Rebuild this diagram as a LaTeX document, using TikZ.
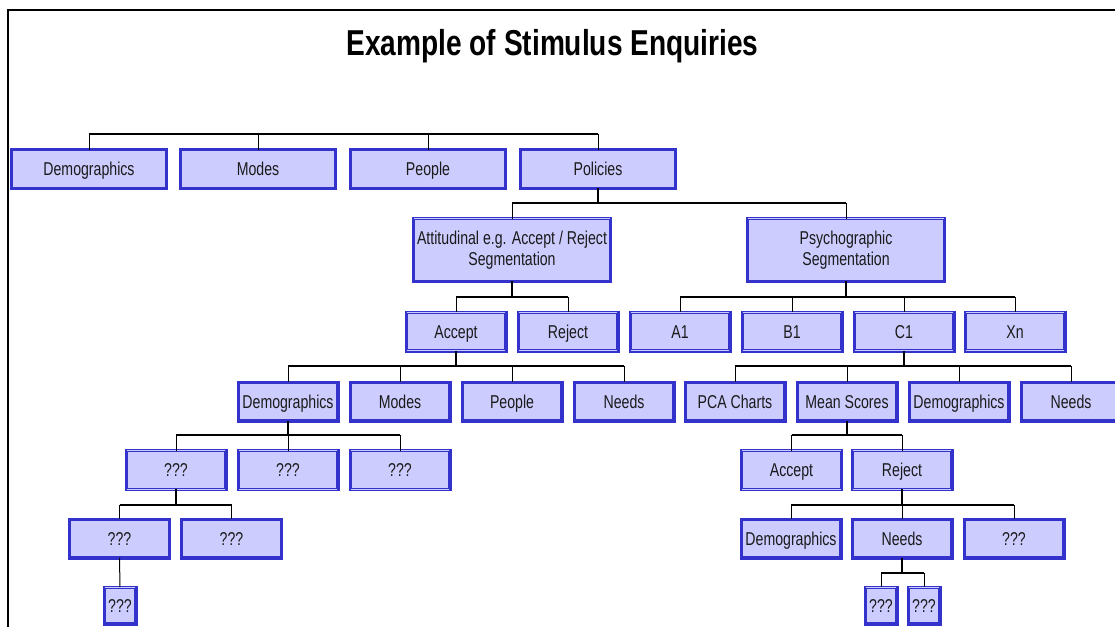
\documentclass[tikz,border=0pt]{standalone}
\usepackage{fontspec}
\setmainfont{Liberation Sans}[FakeStretch=0.76]
\newfontfamily\titlefont{Liberation Sans}[FakeStretch=0.78]
\definecolor{boxfill}{HTML}{CCCCFF}
\definecolor{boxedge}{HTML}{3333CC}
\definecolor{txt}{HTML}{1A1A1A}
\tikzset{
  box/.style={draw=boxedge, fill=boxfill, line width=3.4pt, outer sep=0pt, inner sep=0pt,
    text=txt, font=\fontsize{18.6}{20.5}\selectfont, align=center},
  oneline/.style={text height=13.4pt, text depth=0pt},
  rowA/.style={box, oneline, minimum width=154.6pt, minimum height=38.6pt},
  rowB/.style={box, minimum width=196.6pt, minimum height=62.6pt},
  rowC/.style={box, oneline, minimum width=99.6pt, minimum height=38.6pt},
  rowD/.style={box, oneline, minimum width=31.6pt, minimum height=36.6pt},
  stripe/.style={draw=boxfill, line width=0.9pt},
  topstripe/.style={append after command={\pgfextra{\let\mynode\tikzlastnode}
      ([yshift=0pt,xshift=0.5pt]\mynode.north west) edge[stripe] ([yshift=0pt,xshift=-0.5pt]\mynode.north east)}},
  botstripe/.style={append after command={\pgfextra{\let\mynode\tikzlastnode}
      ([yshift=0pt,xshift=0.5pt]\mynode.south west) edge[stripe] ([yshift=0pt,xshift=-0.5pt]\mynode.south east)}},
  bothstripe/.style={topstripe, botstripe},
  pline/.style={line width=2.6pt},
  bus/.style={line width=1.8pt},
  cline/.style={line width=1pt},
  frame/.style={line width=2.2pt},
}
\begin{document}
\begin{tikzpicture}[x=1pt, y=-1pt]
\useasboundingbox (0,0) rectangle (1115,626);
\clip (0,0) rectangle (1115,626);
% frame
\coordinate (fbl) at (8,630);
\coordinate (ftl) at (8,10);
\coordinate (ftr) at (1120,10);
\draw[frame] (fbl) -- (ftl) -- (ftr);
% title
\node[anchor=base, font=\titlefont\fontsize{36}{40}\bfseries\selectfont] (title) at (552.5,56) {Example of Stimulus Enquiries};

% row 1
\node[rowA] (demo1) at (89,169) {Demographics};
\node[rowA] (modes1) at (258,169) {Modes};
\node[rowA] (people1) at (428,169) {People};
\node[rowA] (policies) at (598,169) {Policies};
\coordinate (bus0) at (0,134);
\draw[bus] (demo1 |- bus0) -- (policies |- bus0);
\foreach \n in {demo1,modes1,people1,policies} \draw[cline] (\n |- bus0) -- (\n.north);

% row 2
\node[rowB, topstripe] (att) at (512,250) {Attitudinal e.g. Accept / Reject\\Segmentation};
\node[rowB, topstripe] (psy) at (846,250) {Psychographic\\Segmentation};
\coordinate (bus1) at (0,203);
\draw[pline] (policies.south) -- (policies |- bus1);
\draw[bus] (att |- bus1) -- (psy |- bus1);
\foreach \n in {att,psy} \draw[cline] (\n |- bus1) -- (\n.north);

% row 3
\node[rowC, bothstripe] (acc1) at (456,331.5) {Accept};
\node[rowC, bothstripe] (rej1) at (568,331.5) {Reject};
\node[rowC, bothstripe] (a1) at (680,331.5) {A1};
\node[rowC, bothstripe] (b1) at (792,331.5) {B1};
\node[rowC, bothstripe] (c1) at (904,331.5) {C1};
\node[rowC, bothstripe] (xn) at (1015,331.5) {Xn};
\coordinate (bus2) at (0,297);
\draw[pline] (att.south) -- (att |- bus2);
\draw[bus] (acc1 |- bus2) -- (rej1 |- bus2);
\foreach \n in {acc1,rej1} \draw[cline] (\n |- bus2) -- (\n.north);
\draw[pline] (psy.south) -- (psy |- bus2);
\draw[bus] (a1 |- bus2) -- (xn |- bus2);
\foreach \n in {a1,b1,c1,xn} \draw[cline] (\n |- bus2) -- (\n.north);

% row 4
\node[rowC] (demo2) at (288,401.5) {Demographics};
\node[rowC] (modes2) at (400,401.5) {Modes};
\node[rowC] (people2) at (512,401.5) {People};
\node[rowC] (needs2) at (624,401.5) {Needs};
\node[rowC] (pca) at (735,401.5) {PCA Charts};
\node[rowC] (mean) at (847,401.5) {Mean Scores};
\node[rowC] (demo3) at (959,401.5) {Demographics};
\node[rowC] (needs3) at (1071,401.5) {Needs};
\coordinate (bus3) at (0,366);
\draw[pline] (acc1.south) -- (acc1 |- bus3);
\draw[bus] (demo2 |- bus3) -- (needs2 |- bus3);
\foreach \n in {demo2,modes2,people2,needs2} \draw[cline] (\n |- bus3) -- (\n.north);
\draw[pline] (c1.south) -- (c1 |- bus3);
\draw[bus] (pca |- bus3) -- (needs3 |- bus3);
\foreach \n in {pca,mean,demo3,needs3} \draw[cline] (\n |- bus3) -- (\n.north);

% row 5
\node[rowC, bothstripe] (q1) at (176,470) {???};
\node[rowC, bothstripe] (q2) at (288,470) {???};
\node[rowC, bothstripe] (q3) at (400,470) {???};
\node[rowC, bothstripe] (acc2) at (791.5,470) {Accept};
\node[rowC, bothstripe] (rej2) at (902,470) {Reject};
\coordinate (bus4) at (0,435);
\draw[pline] (demo2.south) -- (demo2 |- bus4);
\draw[bus] (q1 |- bus4) -- (q3 |- bus4);
\foreach \n in {q1,q2,q3} \draw[cline] (\n |- bus4) -- (\n.north);
\draw[pline] (mean.south) -- (mean |- bus4);
\draw[bus] (acc2 |- bus4) -- (rej2 |- bus4);
\foreach \n in {acc2,rej2} \draw[cline] (\n |- bus4) -- (\n.north);

% row 6
\node[rowC] (q4) at (119.5,538.5) {???};
\node[rowC] (q5) at (231.5,538.5) {???};
\node[rowC] (demo4) at (791,538.5) {Demographics};
\node[rowC] (needs4) at (902,538.5) {Needs};
\node[rowC] (q6) at (1014,538.5) {???};
\coordinate (bus5) at (0,505);
\draw[pline] (q1.south) -- (q1 |- bus5);
\draw[bus] (q4 |- bus5) -- (q5 |- bus5);
\foreach \n in {q4,q5} \draw[cline] (\n |- bus5) -- (\n.north);
\draw[pline] (rej2.south) -- (rej2 |- bus5);
\draw[bus] (demo4 |- bus5) -- (q6 |- bus5);
\foreach \n in {demo4,needs4,q6} \draw[cline] (\n |- bus5) -- (\n.north);

% row 7
\node[rowD, topstripe] (q7) at (120,605.5) {???};
\node[rowD, topstripe] (q8) at (881,605.5) {???};
\node[rowD, topstripe] (q9) at (924,605.5) {???};
\draw[cline] (q4.south) -- (q7.north);
\coordinate (bus6) at (0,573);
\draw[pline] (needs4.south) -- (needs4 |- bus6);
\draw[bus] (q8 |- bus6) -- (q9 |- bus6);
\foreach \n in {q8,q9} \draw[cline] (\n |- bus6) -- (\n.north);
\end{tikzpicture}
\end{document}
